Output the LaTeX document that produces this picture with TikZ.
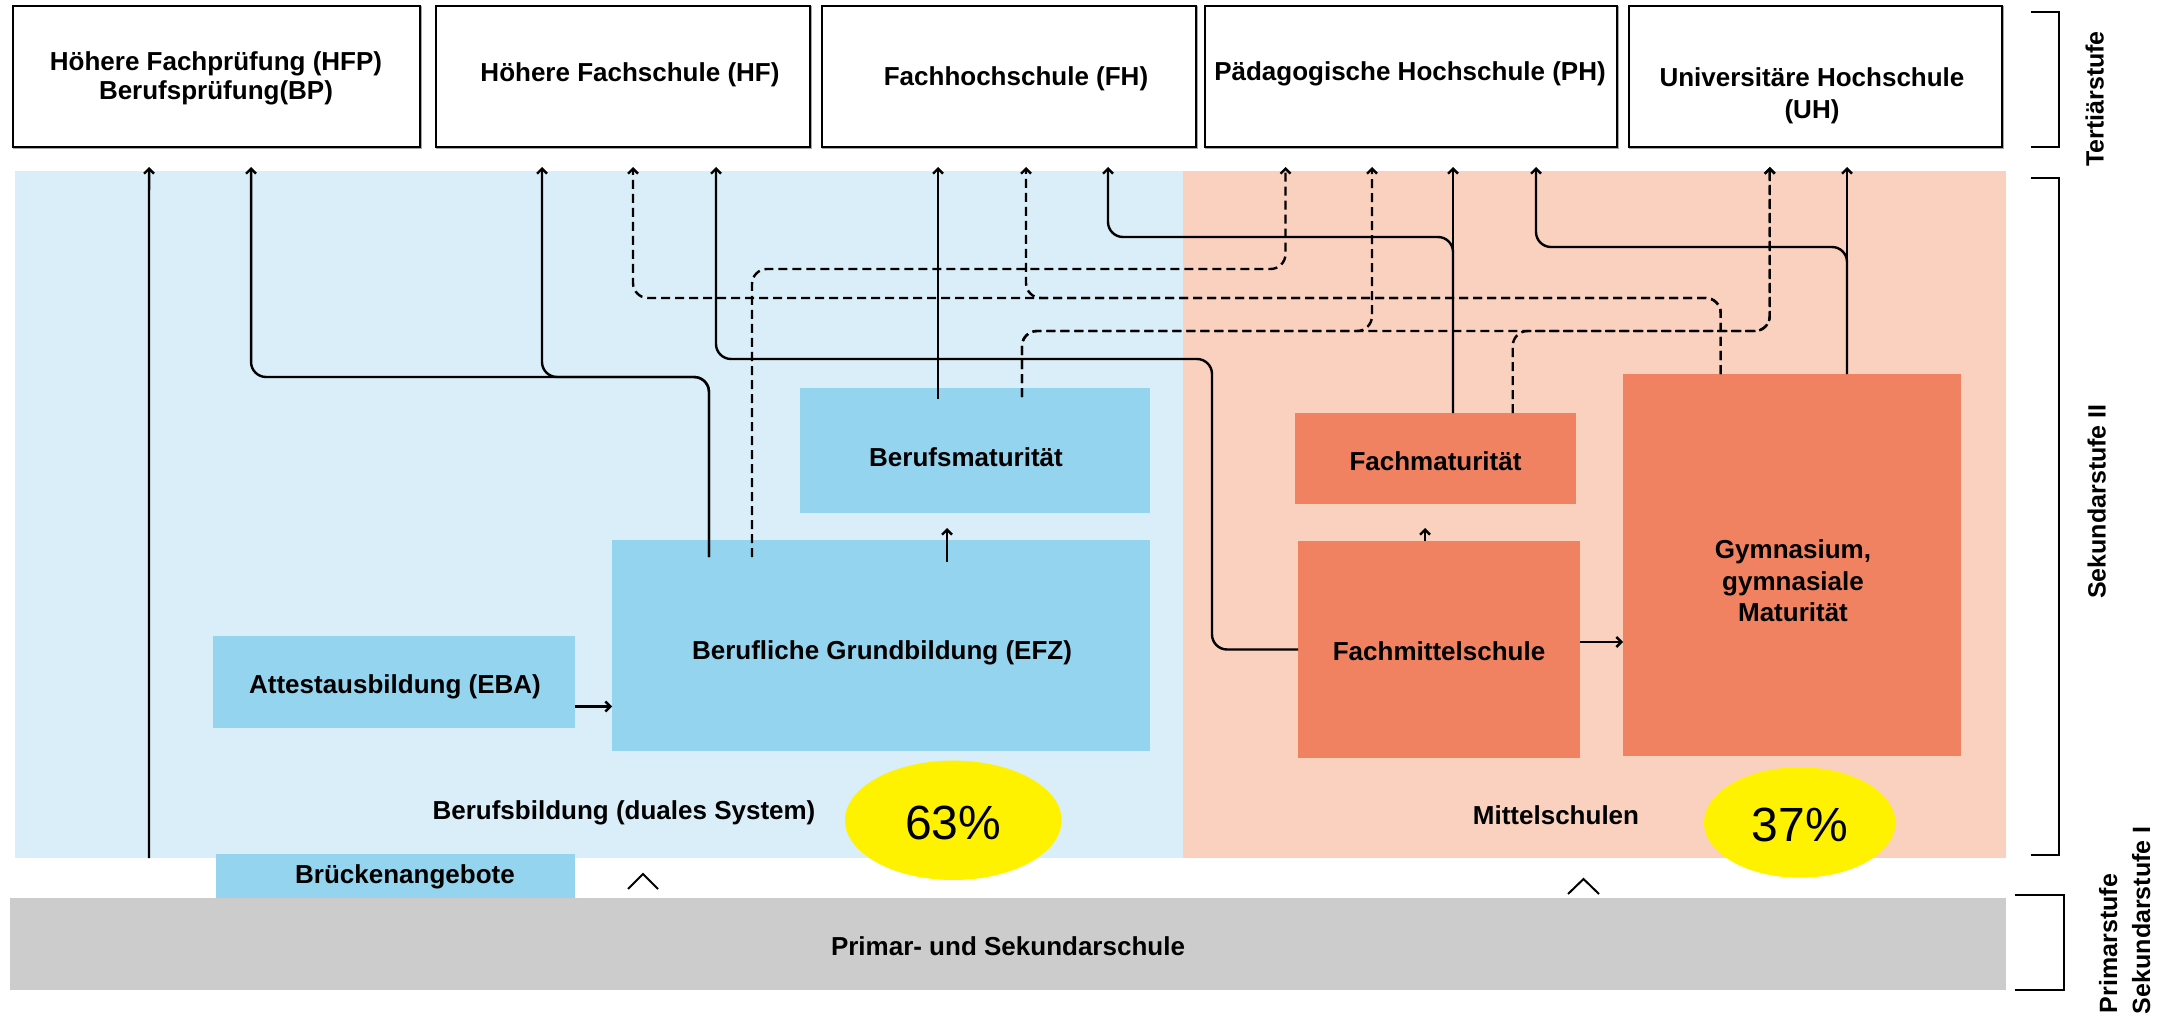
\documentclass[tikz,border=0pt]{standalone}
\usepackage{fontspec}
\setmainfont{Liberation Sans}
\usetikzlibrary{arrows.meta,calc,fit,shapes.geometric}
\definecolor{bgblue}{RGB}{217,238,248}
\definecolor{boxblue}{RGB}{148,212,238}
\definecolor{bgsalmon}{RGB}{250,208,190}
\definecolor{boxsalmon}{RGB}{240,130,98}
\definecolor{grayband}{RGB}{204,204,204}
\newcommand{\tstrut}{\rule{0pt}{12pt}}
\begin{document}
\begin{tikzpicture}[x=0.5pt,y=-0.5pt,
  every node/.style={inner sep=0pt, outer sep=0pt},
  topbox/.style={draw=black, line width=1pt, fill=white,
    preaction={draw=black!35, line width=1pt, transform canvas={shift={(0.7pt,-0.7pt)}}}},
  lbl/.style={font=\fontsize{13}{13}\selectfont\bfseries},
  side/.style={font=\fontsize{12.5}{12.5}\selectfont\bfseries, rotate=90},
  pct/.style={ellipse, fill=yellow, font=\fontsize{24}{24}\selectfont, text height=19pt, text depth=0pt},
  conn/.style={line width=1.2pt, rounded corners=7.5pt, -{Straight Barb[length=2.5pt,width=5pt]}},
  dconn/.style={conn, dash pattern=on 4.5pt off 2.5pt},
  bracket/.style={line width=1pt},
  caret/.style={line width=1pt}]

\path[use as bounding box, fill=white] (0,0) rectangle (2169,1016);

% panels
\node[fit={(15,171) (1183,858)}, fill=bgblue] (bb) {};
\node[fit={(1183,171) (2006,858)}, fill=bgsalmon] (ms) {};

% boxes
\node[fit={(800,388) (1150,513)}, fill=boxblue] (bm) {};
\node[fit={(612,540) (1150,751)}, fill=boxblue] (efz) {};
\node[fit={(213,636) (575,728)}, fill=boxblue] (eba) {};
\node[fit={(216,854) (575,898)}, fill=boxblue] (bru) {};
\node[fit={(10,898) (2006,990)}, fill=grayband] (ps) {};
\node[fit={(1295,413) (1576,504)}, fill=boxsalmon] (fm) {};
\node[fit={(1298,541) (1580,758)}, fill=boxsalmon] (fms) {};
\node[fit={(1623,374) (1961,756)}, fill=boxsalmon] (gym) {};

% tertiary boxes
\node[topbox, fit={(12.6,6) (419.5,147)}] (hfp) {};
\node[topbox, fit={(436,6) (810,147)}] (hf) {};
\node[topbox, fit={(822,6) (1196,147)}] (fh) {};
\node[topbox, fit={(1205,6) (1617,147)}] (ph) {};
\node[topbox, fit={(1629,6) (2001.5,147)}] (uh) {};

% texts
\node[lbl, align=center, anchor=north, font=\fontsize{13}{14.6}\selectfont\bfseries] (hfp-t) at (216,46.5) {\tstrut Höhere Fachprüfung (HFP)\\Berufsprüfung(BP)};
\node[lbl, anchor=base] (hf-t) at (630,81.5) {Höhere Fachschule (HF)};
\node[lbl, anchor=base] (fh-t) at (1016,86) {Fachhochschule (FH)};
\node[lbl, anchor=base] (ph-t) at (1410,81) {Pädagogische Hochschule (PH)};
\node[lbl, align=center, anchor=north, font=\fontsize{13}{16}\selectfont\bfseries] (uh-t) at (1812,62.5) {\tstrut Universitäre Hochschule\\(UH)};
\node[lbl, anchor=base] (bm-t) at (966,466) {Berufsmaturität};
\node[lbl, anchor=base] (efz-t) at (882,659.5) {Berufliche Grundbildung (EFZ)};
\node[lbl, anchor=base] (eba-t) at (395,693) {Attestausbildung (EBA)};
\node[lbl, anchor=base] (bru-t) at (405,883.5) {Brückenangebote};
\node[lbl, anchor=base] (bb-t) at (624,819.5) {Berufsbildung (duales System)};
\node[lbl, anchor=base] (ps-t) at (1008,955.5) {Primar- und Sekundarschule};
\node[lbl, anchor=base] (fm-t) at (1435.5,470) {Fachmaturität};
\node[lbl, anchor=base] (fms-t) at (1439,660.5) {Fachmittelschule};
\node[lbl, align=center, anchor=north, font=\fontsize{13}{15.85}\selectfont\bfseries] (gym-t) at (1793,534.3) {\tstrut Gymnasium,\\gymnasiale\\Maturität};
\node[lbl, anchor=base] (ms-t) at (1556,824.5) {Mittelschulen};

% percentages
\node[pct, minimum width=108.3pt, minimum height=59.7pt] (p63) at (953.3,820.3) {63\%};
\node[pct, minimum width=95.7pt, minimum height=55.2pt] (p37) at (1799.7,822.5) {37\%};

% side labels and brackets
\node[side, anchor=base] (l-t) at (2103.5,99) {Tertiärstufe};
\node[side, anchor=base] (l-s2) at (2105.5,501.5) {Sekundarstufe II};
\node[side, anchor=base west] (l-p) at (2117,1013) {Primarstufe};
\node[side, anchor=base west] (l-s1) at (2150,1014) {Sekundarstufe I};
\draw[bracket] (2031,12) -| (2059,147) -- (2031,147);
\draw[bracket] (2031,178) -| (2058.5,855) -- (2031,855);
\draw[bracket] (2015,894.5) -| (2064,989.5) -- (2015,989.5);

% carets
\draw[caret] ($(ps.north west)+(618,-9)$) -- ++(15,-15) -- ++(15,15);
\draw[caret] ($(ps.north west)+(1558,-4)$) -- ++(15.5,-15) -- ++(15.5,15);

% solid connectors
\draw[conn] ($(bb.south west)+(134,0)$) -- ($(hfp.south)+(-67,20)$);
\draw[conn] ($(efz.north west)+(97,17)$) -- ++(0,-180) -| ($(hfp.south)+(35,20)$);
\draw[conn] ($(efz.north west)+(97,17)$) -- ++(0,-180) -| ($(hf.south)+(-81,20)$);
\draw[conn] (fms.west) -- ++(-86,0) -- ++(0,-290.5) -| ($(hf.south)+(93,20)$);
\draw[conn] ($(bm.north west)+(138,11)$) -- ($(fh.south)+(-71,20)$);
\draw[conn] ($(fm.north west)+(158,0)$) -- ++(0,-176) -| ($(fh.south)+(99,20)$);
\draw[conn] ($(fm.north west)+(158,0)$) -- ($(ph.south)+(42,20)$);
\draw[conn] ($(gym.north west)+(224,0)$) -- ++(0,-127) -| ($(ph.south)+(125,20)$);
\draw[conn] ($(gym.north west)+(224,0)$) -- ($(uh.south)+(31.75,20)$);

% dashed connectors
\draw[dconn] ($(efz.north west)+(140,17)$) -- ++(0,-288) -| ($(ph.south)+(-125.5,20)$);
\draw[dconn] ($(gym.north west)+(97.7,0)$) -- ++(0,-76) -| ($(hf.south)+(10,20)$);
\draw[dconn] ($(gym.north west)+(97.7,0)$) -- ++(0,-76) -| ($(fh.south)+(17,20)$);
\draw[dconn] ($(bm.north west)+(222,9)$) -- ++(0,-66) -| ($(ph.south)+(-39,20)$);
\draw[dconn] ($(bm.north west)+(222,9)$) -- ++(0,-66) -| ($(uh.south)+(-45.5,20)$);
\draw[dconn] ($(fm.north west)+(217.7,0)$) -- ++(0,-82) -| ($(uh.south)+(-45.5,20)$);

% short arrows
\draw[conn] ($(eba.south east)+(0,-21.5)$) coordinate (e1) -- (e1 -| efz.west);
\draw[conn] ($(efz.north west)+(335,22)$) -- ($(bm.south west)+(147,15)$);
\draw[conn] ($(fms.east)+(0,-7.5)$) coordinate (f1) -- (f1 -| gym.west);
\draw[conn] ($(fms.north west)+(127,0)$) -- ($(fm.south west)+(130,24)$);
\end{tikzpicture}
\end{document}
